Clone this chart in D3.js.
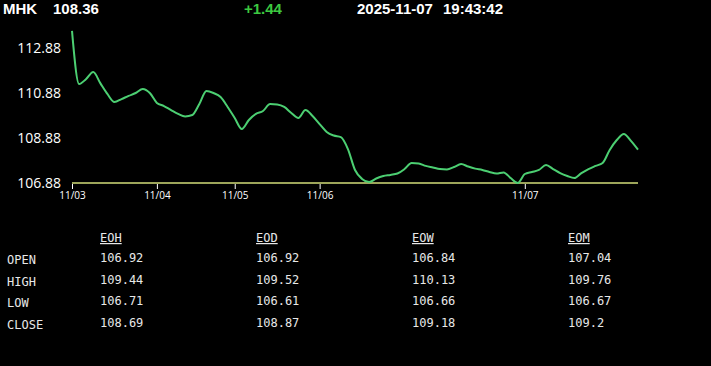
<!DOCTYPE html>
<html>
<head>
<meta charset="utf-8">
<script src="https://cdn.jsdelivr.net/npm/d3@7"></script>
<style>
  html, body { margin: 0; padding: 0; background: #000; }
  svg { display: block; }
</style>
</head>
<body>
<div id="chart"></div>
<script>
// header
var symbol = "MHK";
var lastPrice = "108.36";
var change = "+1.44";
var stamp = ["2025-11-07", "19:43:42"];

// price series, one value per sample (evenly spaced by sample index)
var prices = [
  113.64, 111.28, 111.50, 111.81, 111.32, 110.84, 110.48, 110.61, 110.75, 110.88,
  111.06, 110.88, 110.44, 110.30, 110.12, 109.95, 109.84, 109.90, 110.39, 110.97,
  110.88, 110.70, 110.26, 109.77, 109.28, 109.68, 109.95, 110.08, 110.39, 110.37,
  110.26, 109.99, 109.77, 110.12, 109.86, 109.50, 109.15, 108.99, 108.92, 108.39,
  107.46, 107.06, 106.92, 107.08, 107.19, 107.24, 107.30, 107.50, 107.77, 107.75,
  107.64, 107.57, 107.50, 107.48, 107.59, 107.72, 107.61, 107.52, 107.46, 107.37,
  107.30, 107.35, 107.10, 106.88, 107.28, 107.37, 107.46, 107.68, 107.50, 107.32,
  107.19, 107.10, 107.32, 107.50, 107.64, 107.77, 108.35, 108.79, 109.06, 108.75,
  108.36
];

// day boundaries (sample index where each day begins)
var dayLabels = ["11/03", "11/04", "11/05", "11/06", "11/07"];
var dayIndex = [0, 12, 23, 35, 64];

var yTicks = [106.88, 108.88, 110.88, 112.88];

// summary table
var rowNames = ["OPEN", "HIGH", "LOW", "CLOSE"];
var colNames = ["EOH", "EOD", "EOW", "EOM"];
var tableValues = [
  ["106.92", "106.92", "106.84", "107.04"],
  ["109.44", "109.52", "110.13", "109.76"],
  ["106.71", "106.61", "106.66", "106.67"],
  ["108.69", "108.87", "109.18", "109.2"]
];

var width = 711, height = 366;

var svg = d3.select("#chart")
  .append("svg")
  .attr("width", width)
  .attr("height", height);

svg.append("rect")
  .attr("width", width)
  .attr("height", height)
  .style("fill", "#000");

// header line
var head = svg.append("g")
  .style("font-family", "'Liberation Sans', Arial, sans-serif")
  .style("font-weight", "bold")
  .style("font-size", "15px");

head.append("text").attr("x", 3).attr("y", 14).style("fill", "#fff").text(symbol);
head.append("text").attr("x", 53).attr("y", 14).style("fill", "#fff").text(lastPrice);
head.append("text").attr("x", 244).attr("y", 14).style("fill", "#3cc840").text(change);
head.append("text").attr("x", 357).attr("y", 14).style("fill", "#fff").text(stamp[0]);
head.append("text").attr("x", 443).attr("y", 14).style("fill", "#fff").text(stamp[1]);

// scales
var x = d3.scaleLinear()
  .domain([0, prices.length - 1])
  .range([72, 638]);

var y = d3.scaleLinear()
  .domain([106.88, 112.88])
  .range([183, 48]);

// y labels (no axis line)
var yAxis = d3.axisLeft(y)
  .tickValues(yTicks)
  .tickSize(0)
  .tickPadding(0)
  .tickFormat(d3.format(".2f"));

var gy = svg.append("g")
  .attr("transform", "translate(61,0)")
  .call(yAxis);
gy.select(".domain").remove();
gy.selectAll("text")
  .style("font-family", "'Open Sans', 'Noto Sans', sans-serif")
  .style("font-size", "14px")
  .style("fill", "#fff");

// x axis ticks at day starts
var xAxis = d3.axisBottom(x)
  .tickValues(dayIndex)
  .tickSize(5)
  .tickPadding(3)
  .tickFormat(function(d, i) { return dayLabels[i]; });

var gx = svg.append("g")
  .attr("transform", "translate(0,184)")
  .call(xAxis);
gx.select(".domain").remove();
gx.selectAll("line").style("stroke", "#fff");
gx.selectAll("text")
  .style("font-family", "'Open Sans', 'Noto Sans', sans-serif")
  .style("font-size", "10px")
  .style("fill", "#fff");

// baseline
svg.append("line")
  .attr("x1", x(0))
  .attr("x2", x(prices.length - 1))
  .attr("y1", y(106.88))
  .attr("y2", y(106.88))
  .style("stroke", "#d2dc78")
  .style("stroke-width", 1.5);

// price line
var line = d3.line()
  .x(function(d, i) { return x(i); })
  .y(function(d) { return y(d); })
  .curve(d3.curveMonotoneX);

svg.append("path")
  .datum(prices)
  .attr("d", line)
  .style("fill", "none")
  .style("stroke", "#4ccf72")
  .style("stroke-width", 2);

// table
var colX = d3.scalePoint().domain(colNames).range([100, 568]);
var rowY = d3.scalePoint().domain(rowNames).range([263, 328]);

var table = svg.append("g")
  .style("font-family", "'DejaVu Sans Mono', 'Liberation Mono', monospace")
  .style("font-size", "12px")
  .style("fill", "#e8e8e8");

table.selectAll("text.col")
  .data(colNames)
  .enter().append("text")
  .attr("class", "col")
  .attr("x", function(d) { return colX(d); })
  .attr("y", 242)
  .style("text-decoration", "underline")
  .text(function(d) { return d; });

table.selectAll("text.row")
  .data(rowNames)
  .enter().append("text")
  .attr("class", "row")
  .attr("x", 7)
  .attr("y", function(d) { return rowY(d) + 1; })
  .text(function(d) { return d; });

rowNames.forEach(function(r, ri) {
  colNames.forEach(function(c, ci) {
    table.append("text")
      .attr("x", colX(c))
      .attr("y", rowY(r) - 1)
      .text(tableValues[ri][ci]);
  });
});
</script>
</body>
</html>
